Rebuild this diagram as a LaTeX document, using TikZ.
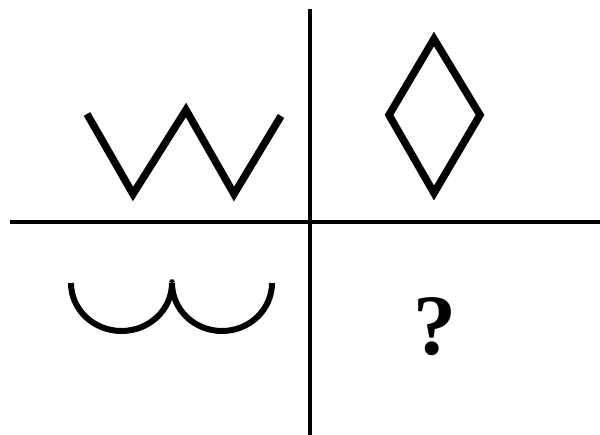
\documentclass[tikz,border=0pt]{standalone}
\usepackage{fontspec}
\setmainfont{Liberation Serif}
\begin{document}
\begin{tikzpicture}[x=1pt,y=-1pt,
  axis/.style={line width=4pt},
  figline/.style={line width=7.5pt,line join=miter,miter limit=20},
  arcs/.style={line width=6pt}]
\useasboundingbox (0,0) rectangle (600,435);
\coordinate (vt) at (310,9);
\coordinate (vb) at (310,435);
\coordinate (hl) at (10,222);
\coordinate (hr) at (600,222);
\draw[axis] (vt) -- (vb);
\draw[axis] (hl) -- (hr);
% W shape
\coordinate (w1) at (87,114);
\coordinate (w2) at (133,194);
\coordinate (w3) at (186,110);
\coordinate (w4) at (234,194);
\coordinate (w5) at (281,116);
\draw[figline] (w1) -- (w2) -- (w3) -- (w4) -- (w5);
% diamond
\coordinate (d1) at (434,39);
\coordinate (d2) at (480,115);
\coordinate (d3) at (434,193);
\coordinate (d4) at (389,115);
\draw[figline] (d1) -- (d2) -- (d3) -- (d4) -- cycle;
% arcs
\coordinate (a1) at (71,283);
\coordinate (a2) at (172,283);
\draw[arcs] (a1) arc[start angle=180,end angle=360,x radius=50.5,y radius=-48];
\draw[arcs] (a2) arc[start angle=180,end angle=360,x radius=50,y radius=-48];
\fill (172,283) -- (169,282) -- (170.5,279.5) -- (173.5,279.5) -- (175,282) -- cycle;
% question mark
\node[font=\fontsize{86}{86}\selectfont\bfseries,inner sep=0pt,anchor=base] (q) at (435,355) {?};
\end{tikzpicture}
\end{document}
